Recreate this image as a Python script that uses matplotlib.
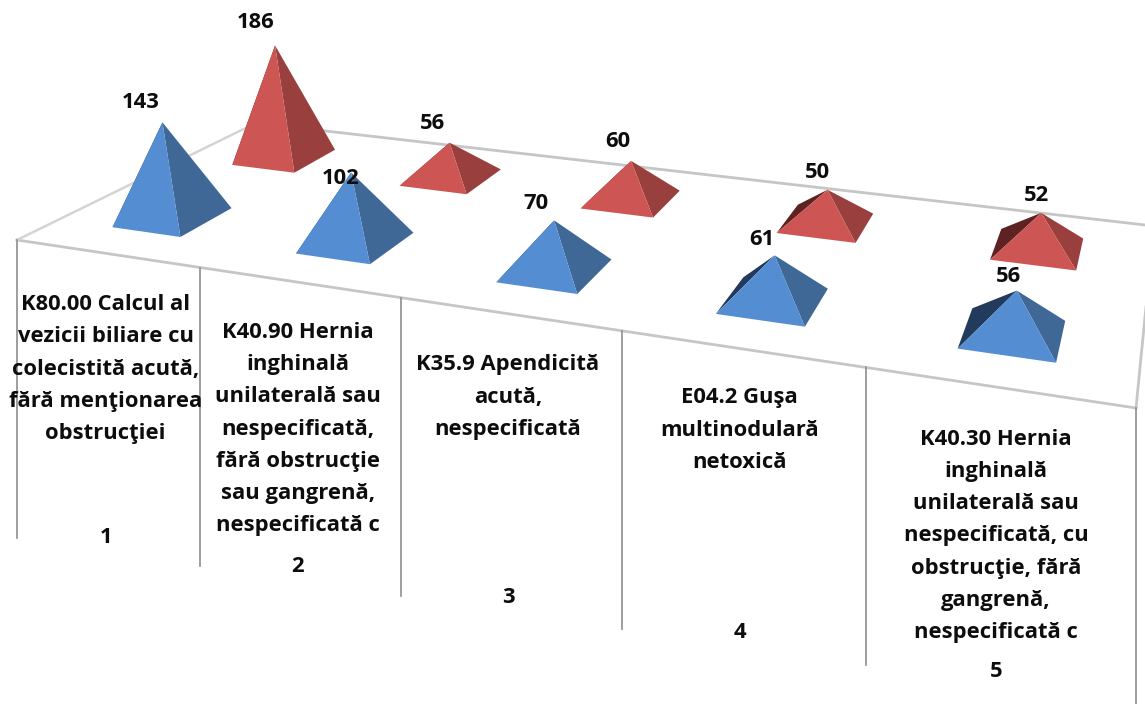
import numpy as np
import matplotlib
matplotlib.use('Agg')
import matplotlib.pyplot as plt

plt.rcParams['font.family'] = ['Open Sans', 'DejaVu Sans']

case_numbers = ["1", "2", "3", "4", "5"]
diagnoses = [
    "K80.00 Calcul al\nvezicii biliare cu\ncolecistită acută,\nfără menţionarea\nobstrucţiei",
    "K40.90 Hernia\ninghinală\nunilaterală sau\nnespecificată,\nfără obstrucţie\nsau gangrenă,\nnespecificată c",
    "K35.9 Apendicită\nacută,\nnespecificată",
    "E04.2 Guşa\nmultinodulară\nnetoxică",
    "K40.30 Hernia\ninghinală\nunilaterală sau\nnespecificată, cu\nobstrucţie, fără\ngangrenă,\nnespecificată c",
]
front_values = [143, 102, 70, 61, 56]
back_values = [186, 56, 60, 50, 52]

# layout of the fake 3d floor, in pixels
corners_px = [(17, 240), (1136, 408), (1154, 226), (256, 123)]
diagnosis_y = [369, 429, 397, 430, 536]
front_label_off = [(-22, -20), (-10, 6), (-18, -17), (-13, -16), (-8, -14)]
back_label_off = [(-19, -23), (-17, -19), (-13, -19), (-10, -17), (-5, -17)]

FS = 15.8
BLUE = ('#558dd2', '#3f6897', '#223a5c')
RED = ('#cd5554', '#99403f', '#5f2222')


def floor_matrix():
    # homography from (category, depth) to screen
    src = [(0, 0), (5, 0), (5, 1), (0, 1)]
    rows = []
    rhs = []
    for (u, d), (x, y) in zip(src, corners_px):
        rows.append([u, d, 1, 0, 0, 0, -u * x, -d * x])
        rows.append([0, 0, 0, u, d, 1, -u * y, -d * y])
        rhs += [x, y]
    h = np.linalg.solve(np.array(rows, float), np.array(rhs, float))
    return np.append(h, 1).reshape(3, 3)


H = floor_matrix()


def project(u, d):
    p = H @ np.array([u, d, 1.0])
    return np.array([p[0] / p[2], p[1] / p[2]])


def px_per_unit(u, d):
    w = (H @ np.array([u, d, 1.0]))[2]
    return 0.69 / w ** 0.9


def draw_pyramid(ax, u, d, value, colors, half_u=0.19, half_d=0.105):
    left = project(u - half_u, d - half_d)
    front = project(u + half_u, d - half_d)
    right = project(u + half_u, d + half_d)
    back = project(u - half_u, d + half_d)
    centre = project(u, d)
    h = value * px_per_unit(u, d)
    lean = (centre[0] - 620) * 0.00025
    apex = centre + np.array([lean * h, -h])
    ax.fill(*zip(left, back, apex), color=colors[2], lw=0, zorder=3)
    ax.fill(*zip(front, right, apex), color=colors[1], lw=0, zorder=3)
    ax.fill(*zip(left, front, apex), color=colors[0], lw=0, zorder=3)
    return apex


fig = plt.figure(figsize=(11.45, 7.04), dpi=100)
ax = fig.add_axes([0, 0, 1, 1])
ax.set_xlim(0, 1145)
ax.set_ylim(704, 0)
ax.axis('off')

# floor outline
edge = '#c6c6c6'
for a, b in [((0, 0), (5, 0)), ((0, 1), (5, 1)), ((5, 0), (5, 1))]:
    p, q = project(*a), project(*b)
    ax.plot([p[0], q[0]], [p[1], q[1]], color=edge, lw=2, zorder=1)
p, q = project(0, 0), project(0, 1)
ax.plot([p[0], q[0]], [p[1], q[1]], color='#d4d4d4', lw=1.8, zorder=1)

# category dividers hanging off the front edge
for i in range(6):
    x, y = project(i, 0)
    ax.plot([x, x], [y, y + 298], color='#8e8e8e', lw=1.2, zorder=2)

for i in range(5):
    x, y = project(i + 0.5, 0)
    ax.text(x - 1, diagnosis_y[i], diagnoses[i], ha='center', va='center',
            fontsize=FS, fontweight='bold', linespacing=1.69, color='#0d0d0d', zorder=5)
    ax.text(x - 1, y + 284, case_numbers[i], ha='center', va='center',
            fontsize=FS, fontweight='bold', color='#0d0d0d', zorder=5)

for i in range(5):
    apex = draw_pyramid(ax, i + 0.5, 0.75, back_values[i], RED)
    ax.text(apex[0] + back_label_off[i][0], apex[1] + back_label_off[i][1], str(back_values[i]),
            ha='center', va='center', fontsize=FS, fontweight='bold', color='#0d0d0d', zorder=6)
for i in range(5):
    apex = draw_pyramid(ax, i + 0.5, 0.25, front_values[i], BLUE)
    ax.text(apex[0] + front_label_off[i][0], apex[1] + front_label_off[i][1], str(front_values[i]),
            ha='center', va='center', fontsize=FS, fontweight='bold', color='#0d0d0d', zorder=6)

fig.savefig('out.png', dpi=100)
